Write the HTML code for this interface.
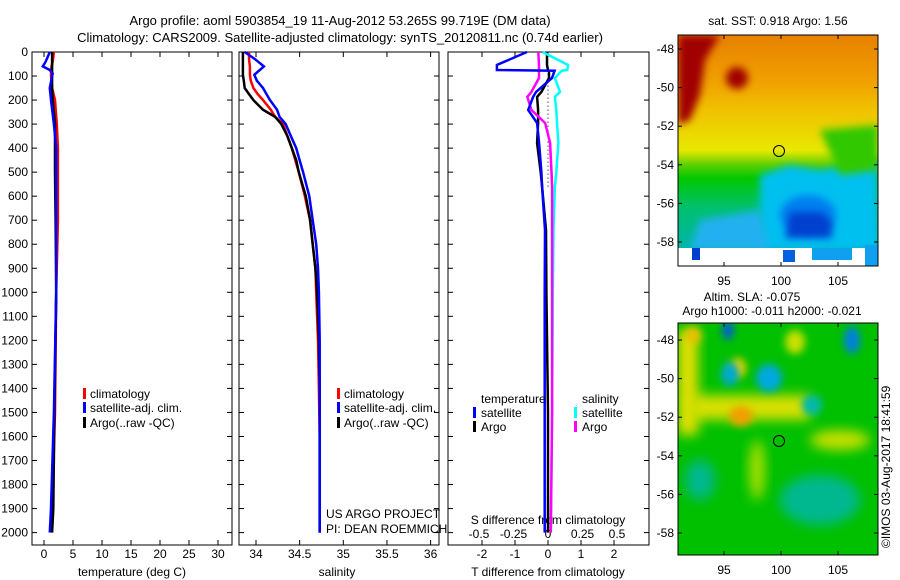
<!DOCTYPE html>
<html><head><meta charset="utf-8">
<style>
html,body{margin:0;padding:0;background:#fff;}
svg{display:block;font-family:"Liberation Sans",sans-serif;}
text{fill:#000;}
</style></head>
<body>
<svg id="chart" width="900" height="580" viewBox="0 0 900 580" xmlns="http://www.w3.org/2000/svg">
<defs>
<filter id="bl" x="-50%" y="-50%" width="200%" height="200%"><feGaussianBlur stdDeviation="6"/></filter>
<filter id="bl2" x="-50%" y="-50%" width="200%" height="200%"><feGaussianBlur stdDeviation="4"/></filter>
<clipPath id="c1"><rect x="678" y="35" width="200" height="231"/></clipPath>
<clipPath id="c2"><rect x="678" y="323" width="200" height="232"/></clipPath>
<linearGradient id="sstg" x1="0" y1="0" x2="0" y2="1">
<stop offset="0" stop-color="#e88000"/>
<stop offset="0.2" stop-color="#f0a000"/>
<stop offset="0.32" stop-color="#f0c000"/>
<stop offset="0.5" stop-color="#e8e800"/>
<stop offset="0.56" stop-color="#60d000"/>
<stop offset="0.62" stop-color="#00c800"/>
<stop offset="0.75" stop-color="#00c070"/>
<stop offset="1" stop-color="#00b0c0"/>
</linearGradient>
</defs>
<text x="340" y="25" font-size="13" text-anchor="middle">Argo profile: aoml 5903854_19 11-Aug-2012 53.265S 99.719E (DM data)</text>
<text x="340" y="42" font-size="13" text-anchor="middle">Climatology: CARS2009. Satellite-adjusted climatology: synTS_20120811.nc (0.74d earlier)</text>

<g id="panels"></g>

<!-- SST map -->
<g>
<text x="778" y="25" font-size="12" text-anchor="middle">sat. SST: 0.918 Argo: 1.56</text>
<g clip-path="url(#c1)">
<rect x="678" y="35" width="200" height="231" fill="url(#sstg)"/>
<path d="M760 175 L790 165 L820 170 L878 160 V250 H760 Z" fill="#00c0f0" filter="url(#bl2)"/>
<path d="M700 220 L760 210 L770 250 H690 Z" fill="#20b0f0" filter="url(#bl2)"/>
<ellipse cx="808" cy="215" rx="28" ry="20" fill="#0080f0" filter="url(#bl2)"/>
<path d="M790 212 H822 L832 222 V238 H785 Z" fill="#0040d0" filter="url(#bl2)"/>
<path d="M820 130 L878 125 V170 L840 175 Z" fill="#30c800" filter="url(#bl2)"/>
<path d="M678 35 H720 L705 60 L700 95 L690 120 L678 125 Z" fill="#a00000" filter="url(#bl2)"/>
<circle cx="737" cy="78" r="11" fill="#a00000" filter="url(#bl2)"/>
<rect x="678" y="248" width="200" height="18" fill="#ffffff"/>
<rect x="692" y="248" width="8" height="12" fill="#0040d0"/>
<rect x="783" y="250" width="12" height="12" fill="#0060e0"/>
<rect x="812" y="248" width="40" height="12" fill="#10a0f0"/>
<rect x="865" y="245" width="13" height="21" fill="#10a0f0"/>
</g>
<rect x="678" y="35" width="200" height="231" fill="none" stroke="#000" stroke-width="1"/>
<circle cx="779" cy="151" r="5.5" fill="none" stroke="#000" stroke-width="1"/>
<g id="m1ticks"></g>
</g>

<!-- SLA map -->
<g>
<text x="752" y="301" font-size="12" text-anchor="middle">Altim. SLA: -0.075</text>
<text x="772" y="315" font-size="12" text-anchor="middle">Argo h1000: -0.011 h2000: -0.021</text>
<g clip-path="url(#c2)">
<rect x="678" y="323" width="200" height="232" fill="#00c000"/>
<rect x="678" y="330" width="20" height="105" fill="#e8e000" filter="url(#bl)"/>
<rect x="690" y="395" width="120" height="25" fill="#d8e000" filter="url(#bl)"/>
<ellipse cx="741" cy="416" rx="12" ry="10" fill="#f0a000" filter="url(#bl2)"/>
<ellipse cx="693" cy="335" rx="8" ry="8" fill="#f0c000" filter="url(#bl2)"/>
<ellipse cx="738" cy="368" rx="8" ry="10" fill="#f0d000" filter="url(#bl2)"/>
<ellipse cx="795" cy="342" rx="10" ry="12" fill="#c8e000" filter="url(#bl2)"/>
<ellipse cx="840" cy="440" rx="30" ry="10" fill="#c8e000" filter="url(#bl)"/>
<ellipse cx="757" cy="470" rx="8" ry="30" fill="#a8e000" filter="url(#bl)"/>
<ellipse cx="730" cy="374" rx="9" ry="12" fill="#00a8d0" filter="url(#bl2)"/>
<ellipse cx="769" cy="378" rx="13" ry="14" fill="#00a8e0" filter="url(#bl2)"/>
<ellipse cx="728" cy="330" rx="6" ry="10" fill="#0060d0" filter="url(#bl2)"/>
<ellipse cx="852" cy="340" rx="8" ry="14" fill="#0080e0" filter="url(#bl2)"/>
<ellipse cx="812" cy="405" rx="10" ry="10" fill="#00b8b0" filter="url(#bl2)"/>
<ellipse cx="820" cy="500" rx="40" ry="25" fill="#00b890" filter="url(#bl)"/>
<ellipse cx="700" cy="480" rx="15" ry="20" fill="#00b890" filter="url(#bl)"/>
</g>
<rect x="678" y="323" width="200" height="232" fill="none" stroke="#000" stroke-width="1"/>
<circle cx="779" cy="441" r="5.5" fill="none" stroke="#000" stroke-width="1"/>
<g id="m2ticks"></g>
</g>
<text transform="translate(890,548) rotate(-90)" font-size="12">©IMOS 03-Aug-2017 18:41:59</text>
</svg>
<script>
// ---- data ----
const tempDepths = [0,40,60,75,90,100,150,200,300,400,500,700,1000,1500,1900,2000];
const tempClim   = [1.7,1.5,1.3,1.2,1.2,1.2,1.4,1.9,2.2,2.4,2.4,2.4,2.1,1.9,1.4,1.2];
const tempSat    = [1.0,0.3,-0.2,1.0,1.5,1.4,1.0,1.2,1.7,2.1,2.1,2.1,2.1,1.7,1.2,1.0];
const tempArgo   = [1.4,1.4,1.4,1.4,1.4,1.4,1.4,1.5,1.9,1.9,1.9,2.0,2.1,1.8,1.6,1.4];

const salDepths = [0,30,60,95,120,150,175,200,240,270,300,350,400,450,500,600,700,800,900,1000,1200,1400,1600,1800,2000];
const salClim   = [33.92,33.92,33.93,33.93,33.94,33.97,34.02,34.08,34.17,34.22,34.31,34.36,34.41,34.45,34.49,34.56,34.62,34.65,34.68,34.69,34.71,34.72,34.73,34.73,34.73];
const salSat    = [33.87,33.99,34.09,33.98,34.01,34.08,34.12,34.16,34.24,34.27,34.34,34.40,34.46,34.50,34.54,34.61,34.65,34.69,34.71,34.72,34.73,34.73,34.73,34.73,34.73];
const salArgo   = [33.85,33.85,33.85,33.85,33.86,33.87,33.92,33.97,34.08,34.22,34.29,34.36,34.41,34.46,34.49,34.57,34.62,34.65,34.68,34.70,34.72,34.73,34.73,34.73,34.73];

const diffDepths = [0,54,75,78,108,166,187,241,296,379,500,561,741,1000,1500,2000];
const dTSat  = [-0.64,-1.55,-1.55,0.2,0.12,-0.36,-0.45,-0.6,-0.33,-0.27,-0.2,-0.18,-0.09,-0.1,-0.1,-0.1];
const dTArgo = [-0.03,-0.03,0.0,0.03,0.03,-0.2,-0.33,-0.3,-0.3,-0.33,-0.22,-0.18,-0.06,-0.05,0.0,0.0];
const dSSat  = [-0.04,0.145,0.14,0.1,0.05,0.087,0.05,0.06,0.065,0.075,0.06,0.05,0.04,0.035,0.03,0.02];
const dSArgo = [-0.07,-0.065,-0.065,-0.065,-0.065,-0.12,-0.15,-0.12,-0.02,0.015,0.025,0.03,0.03,0.03,0.03,0.02];

const depthTicks = [0,100,200,300,400,500,600,700,800,900,1000,1100,1200,1300,1400,1500,1600,1700,1800,1900,2000];
const tempTicks = [0,5,10,15,20,25,30];
const salTicks = [34,34.5,35,35.5,36];
const dTTicks = [-2,-1,0,1,2];
const dSTicks = [-0.5,-0.25,0,0.25,0.5];
const latTicks = [-48,-50,-52,-54,-56,-58];
const lonTicks = [95,100,105];

// ---- axes ----
const NS='http://www.w3.org/2000/svg';
const yD = d => 52 + d*0.2403;
const xT = t => 44 + t*5.8;
const xS = s => 256 + (s-34)*87.3;
const xDT = v => 548 + v*33;
const xDS = v => 548 + v*138;
const yLat1 = l => 49 + (-48-l)*19.3;
const yLat2 = l => 340 + (-48-l)*19.3;
const xLon = l => 724 + (l-95)*11.4;

function mk(tag, attrs, parent){const e=document.createElementNS(NS,tag);for(const k in attrs)e.setAttribute(k,attrs[k]);parent.appendChild(e);return e;}
const P=document.getElementById('panels');

function frame(x0,x1,name){
  const r=mk('rect',{x:x0,y:52,width:x1-x0,height:493,fill:'none',stroke:'#000','stroke-width':1},P);
  
  
}
function xticks(vals,fx,labelY,name){
  vals.forEach(v=>{
    const x=fx(v);
    mk('line',{x1:x,x2:x,y1:52,y2:57,stroke:'#000'},P);
    mk('line',{x1:x,x2:x,y1:540,y2:545,stroke:'#000'},P);
    const t=mk('text',{x:x,y:labelY,'font-size':12,'text-anchor':'middle'},P);t.textContent=String(v);
    
    
  });
}
function line(depths,vals,fx,color,name,w){
  const pts=depths.map((d,i)=>fx(vals[i]).toFixed(1)+','+yD(d).toFixed(1)).join(' ');
  const p=mk('polyline',{points:pts,fill:'none',stroke:color,'stroke-width':w||2.5},P);
  
  
}
function txt(x,y,s,name,anchor){const t=mk('text',{x:x,y:y,'font-size':12,'text-anchor':anchor||'start'},P);t.textContent=s;
  
  }
function legbar(x,y,color,name){const r=mk('rect',{x:x,y:y-10,width:3,height:11,fill:color},P);
  
  }

frame(32,232,'temperature-panel-frame');
frame(239,439,'salinity-panel-frame');
frame(448,649,'difference-panel-frame');

depthTicks.forEach(d=>{
  const y=yD(d);
  [32,239,448].forEach(x=>mk('line',{x1:x,x2:x+5,y1:y,y2:y,stroke:'#000'},P));
  [232,439,649].forEach(x=>mk('line',{x1:x-5,x2:x,y1:y,y2:y,stroke:'#000'},P));
  const t=mk('text',{x:28,y:y+4,'font-size':12,'text-anchor':'end'},P);t.textContent=String(d);
  
  
});
xticks(tempTicks,xT,558,'temperature-tick-label');
xticks(salTicks,xS,558,'salinity-tick-label');
xticks(dTTicks,xDT,558,'t-diff-tick-label');
dSTicks.forEach(v=>{const t=mk('text',{x:xDS(v),y:538,'font-size':12,'text-anchor':'middle'},P);t.textContent=String(v);
  
  });

txt(132,576,'temperature (deg C)','temperature-axis-title','middle');
txt(337,576,'salinity','salinity-axis-title','middle');
txt(548,576,'T difference from climatology','t-diff-axis-title','middle');
txt(548,524,'S difference from climatology','s-diff-axis-title','middle');

const zl=mk('line',{x1:548,x2:548,y1:yD(90),y2:yD(560),stroke:'#000','stroke-dasharray':'1,3'},P);



line(tempDepths,tempClim,xT,'#ff0000','temp-climatology-line');
line(tempDepths,tempArgo,xT,'#000000','temp-argo-line');
line(tempDepths,tempSat,xT,'#0000ff','temp-satellite-line');
line(salDepths,salClim,xS,'#ff0000','sal-climatology-line');
line(salDepths,salArgo,xS,'#000000','sal-argo-line');
line(salDepths,salSat,xS,'#0000ff','sal-satellite-line');
line(diffDepths,dTArgo,xDT,'#000000','t-diff-argo-line');
line(diffDepths,dSSat,xDS,'#00ffff','s-diff-satellite-line');
line(diffDepths,dSArgo,xDS,'#ff00ff','s-diff-argo-line');
line(diffDepths,dTSat,xDT,'#0000ff','t-diff-satellite-line');

[[398,'#ff0000','climatology'],[412,'#0000ff','satellite-adj. clim.'],[427,'#000000','Argo(..raw -QC)']].forEach(([y,c,s])=>{
  legbar(83,y,c,'temp-legend-swatch'); txt(90,y,s,'temp-legend-entry');
  legbar(337,y,c,'sal-legend-swatch'); txt(344,y,s,'sal-legend-entry');
});
txt(481,403,'temperature','diff-legend-temperature-header');
txt(582,403,'salinity','diff-legend-salinity-header');
legbar(473,417,'#0000ff','diff-legend-swatch'); txt(481,417,'satellite','diff-legend-entry');
legbar(473,431,'#000000','diff-legend-swatch'); txt(481,431,'Argo','diff-legend-entry');
legbar(574,417,'#00ffff','diff-legend-swatch'); txt(582,417,'satellite','diff-legend-entry');
legbar(574,431,'#ff00ff','diff-legend-swatch'); txt(582,431,'Argo','diff-legend-entry');
txt(326,518,'US ARGO PROJECT','project-label');
txt(326,533,'PI: DEAN ROEMMICH','pi-label');

function mapTicks(gid,yl,top,bot){
  const g=document.getElementById(gid);
  latTicks.forEach(l=>{const y=yl(l);
    mk('line',{x1:678,x2:682,y1:y,y2:y,stroke:'#000'},g);mk('line',{x1:874,x2:878,y1:y,y2:y,stroke:'#000'},g);
    const t=mk('text',{x:674,y:y+4,'font-size':12,'text-anchor':'end'},g);t.textContent=String(l);
    
    });
  lonTicks.forEach(l=>{const x=xLon(l);
    mk('line',{x1:x,x2:x,y1:top,y2:top+4,stroke:'#000'},g);mk('line',{x1:x,x2:x,y1:bot-4,y2:bot,stroke:'#000'},g);
    const t=mk('text',{x:x,y:bot+19,'font-size':12,'text-anchor':'middle'},g);t.textContent=String(l);
    
    });
}
mapTicks('m1ticks',yLat1,35,266);
mapTicks('m2ticks',yLat2,323,555);
</script>
</body></html>
